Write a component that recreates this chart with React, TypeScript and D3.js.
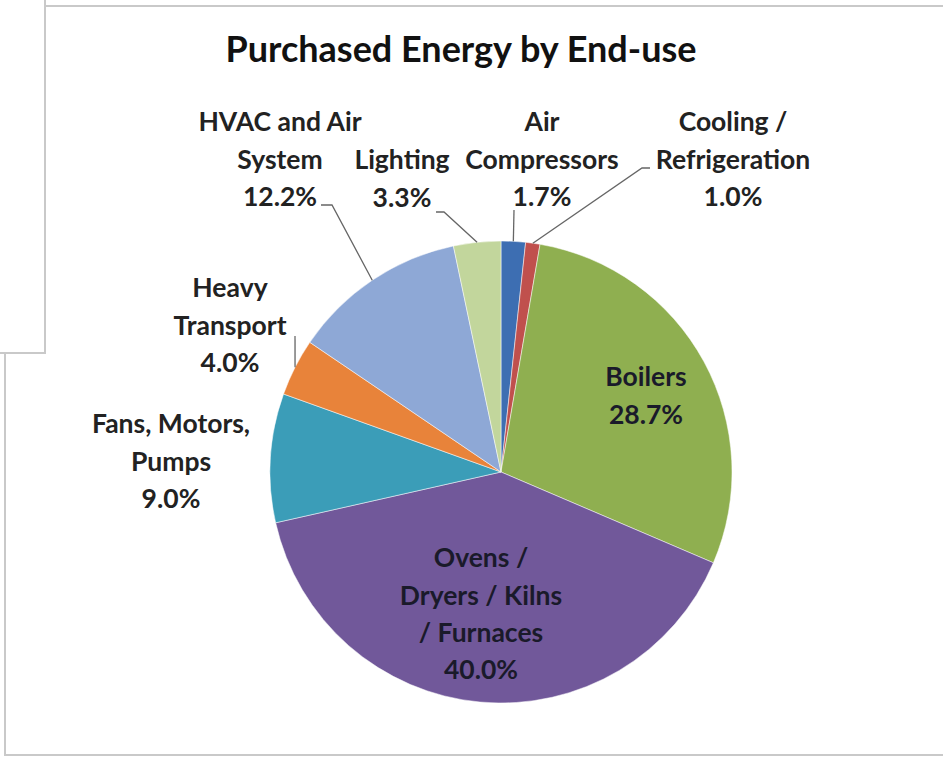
import React from "react";
import * as d3 from "d3";

const categories = [
  "Air Compressors",
  "Cooling / Refrigeration",
  "Boilers",
  "Ovens / Dryers / Kilns / Furnaces",
  "Fans, Motors, Pumps",
  "Heavy Transport",
  "HVAC and Air System",
  "Lighting",
];
const values = [1.7, 1.0, 28.7, 40.0, 9.0, 4.0, 12.2, 3.3];
const valueLabels = ["1.7%", "1.0%", "28.7%", "40.0%", "9.0%", "4.0%", "12.2%", "3.3%"];
const labelLines = [
  ["Air", "Compressors"],
  ["Cooling /", "Refrigeration"],
  ["Boilers"],
  ["Ovens /", "Dryers / Kilns", "/ Furnaces"],
  ["Fans, Motors,", "Pumps"],
  ["Heavy", "Transport"],
  ["HVAC and Air", "System"],
  ["Lighting"],
];
const colors = ["#3D6EB2", "#C0504D", "#8FAF50", "#71589A", "#3B9DB8", "#E8833A", "#8EA8D6", "#C2D69C"];

// layout (not data): label centre (first line) relative to pie centre, and leader elbows
const W = 943, H = 757;
const cx = 501, cy = 472, R = 231;
const lineH = 37.3;
const fontSize = 26.5;
const labelLayout: { x: number; y: number; inside?: boolean; leader?: [number, number][] }[] = [
  { x: 542 - cx, y: 122 - cy, leader: [[514, 210]] },
  { x: 733 - cx, y: 122 - cy, leader: [[642, 168], [650, 168]] },
  { x: 646 - cx, y: 377 - cy, inside: true },
  { x: 481 - cx, y: 558 - cy, inside: true },
  { x: 171 - cx, y: 424 - cy },
  { x: 230 - cx, y: 288 - cy, leader: [[295, 336]] },
  { x: 280 - cx, y: 122 - cy, leader: [[332, 205], [321, 205]] },
  { x: 402 - cx, y: 160 - cy, leader: [[444, 212], [436, 212]] },
];

const FONT = "Lato, 'Open Sans', sans-serif";

export default function App() {
  const data = categories.map((c, i) => ({ name: c, value: values[i], i }));
  const pie = d3.pie<any>().value((d) => d.value).sort(null);
  const arcs = pie(data);
  const arc = d3.arc<any>().innerRadius(0).outerRadius(R);
  const edgeArc = d3.arc<any>().innerRadius(R).outerRadius(R);

  return (
    <svg width={W} height={H} style={{ position: "absolute", left: 0, top: 0, background: "#fff" }}>
      {/* frames */}
      <rect x={5} y={6} width={W + 10} height={749} fill="#fff" stroke="#c9c9c9" strokeWidth={2} />
      <rect x={-5} y={-5} width={50} height={358} fill="#fff" stroke="#c9c9c9" strokeWidth={2} />

      <text x={461} y={62} textAnchor="middle" fontFamily={FONT} fontWeight="bold" fontSize={36} fill="#111">
        Purchased Energy by End-use
      </text>

      <g transform={`translate(${cx},${cy})`}>
        {arcs.map((a, i) => (
          <path key={i} d={arc(a) as string} fill={colors[i]} stroke="#fff" strokeWidth={0.5} />
        ))}
      </g>

      {arcs.map((a, i) => {
        const L = labelLayout[i];
        if (!L.leader) return null;
        const [ex, ey] = edgeArc.centroid(a);
        const pts: [number, number][] = [[cx + ex, cy + ey], ...L.leader];
        return (
          <path key={"l" + i} d={d3.line()(pts) as string} fill="none" stroke="#666" strokeWidth={1.3} />
        );
      })}

      {arcs.map((a, i) => {
        const L = labelLayout[i];
        const lines = [...labelLines[i], valueLabels[i]];
        return (
          <text
            key={"t" + i}
            textAnchor="middle"
            fontFamily={FONT}
            fontWeight="bold"
            fontSize={fontSize}
            fill={L.inside ? "#1a1a2a" : "#222"}
          >
            {lines.map((s, k) => (
              <tspan key={k} x={cx + L.x} y={cy + L.y + k * lineH + fontSize * 0.35}>
                {s}
              </tspan>
            ))}
          </text>
        );
      })}
    </svg>
  );
}
